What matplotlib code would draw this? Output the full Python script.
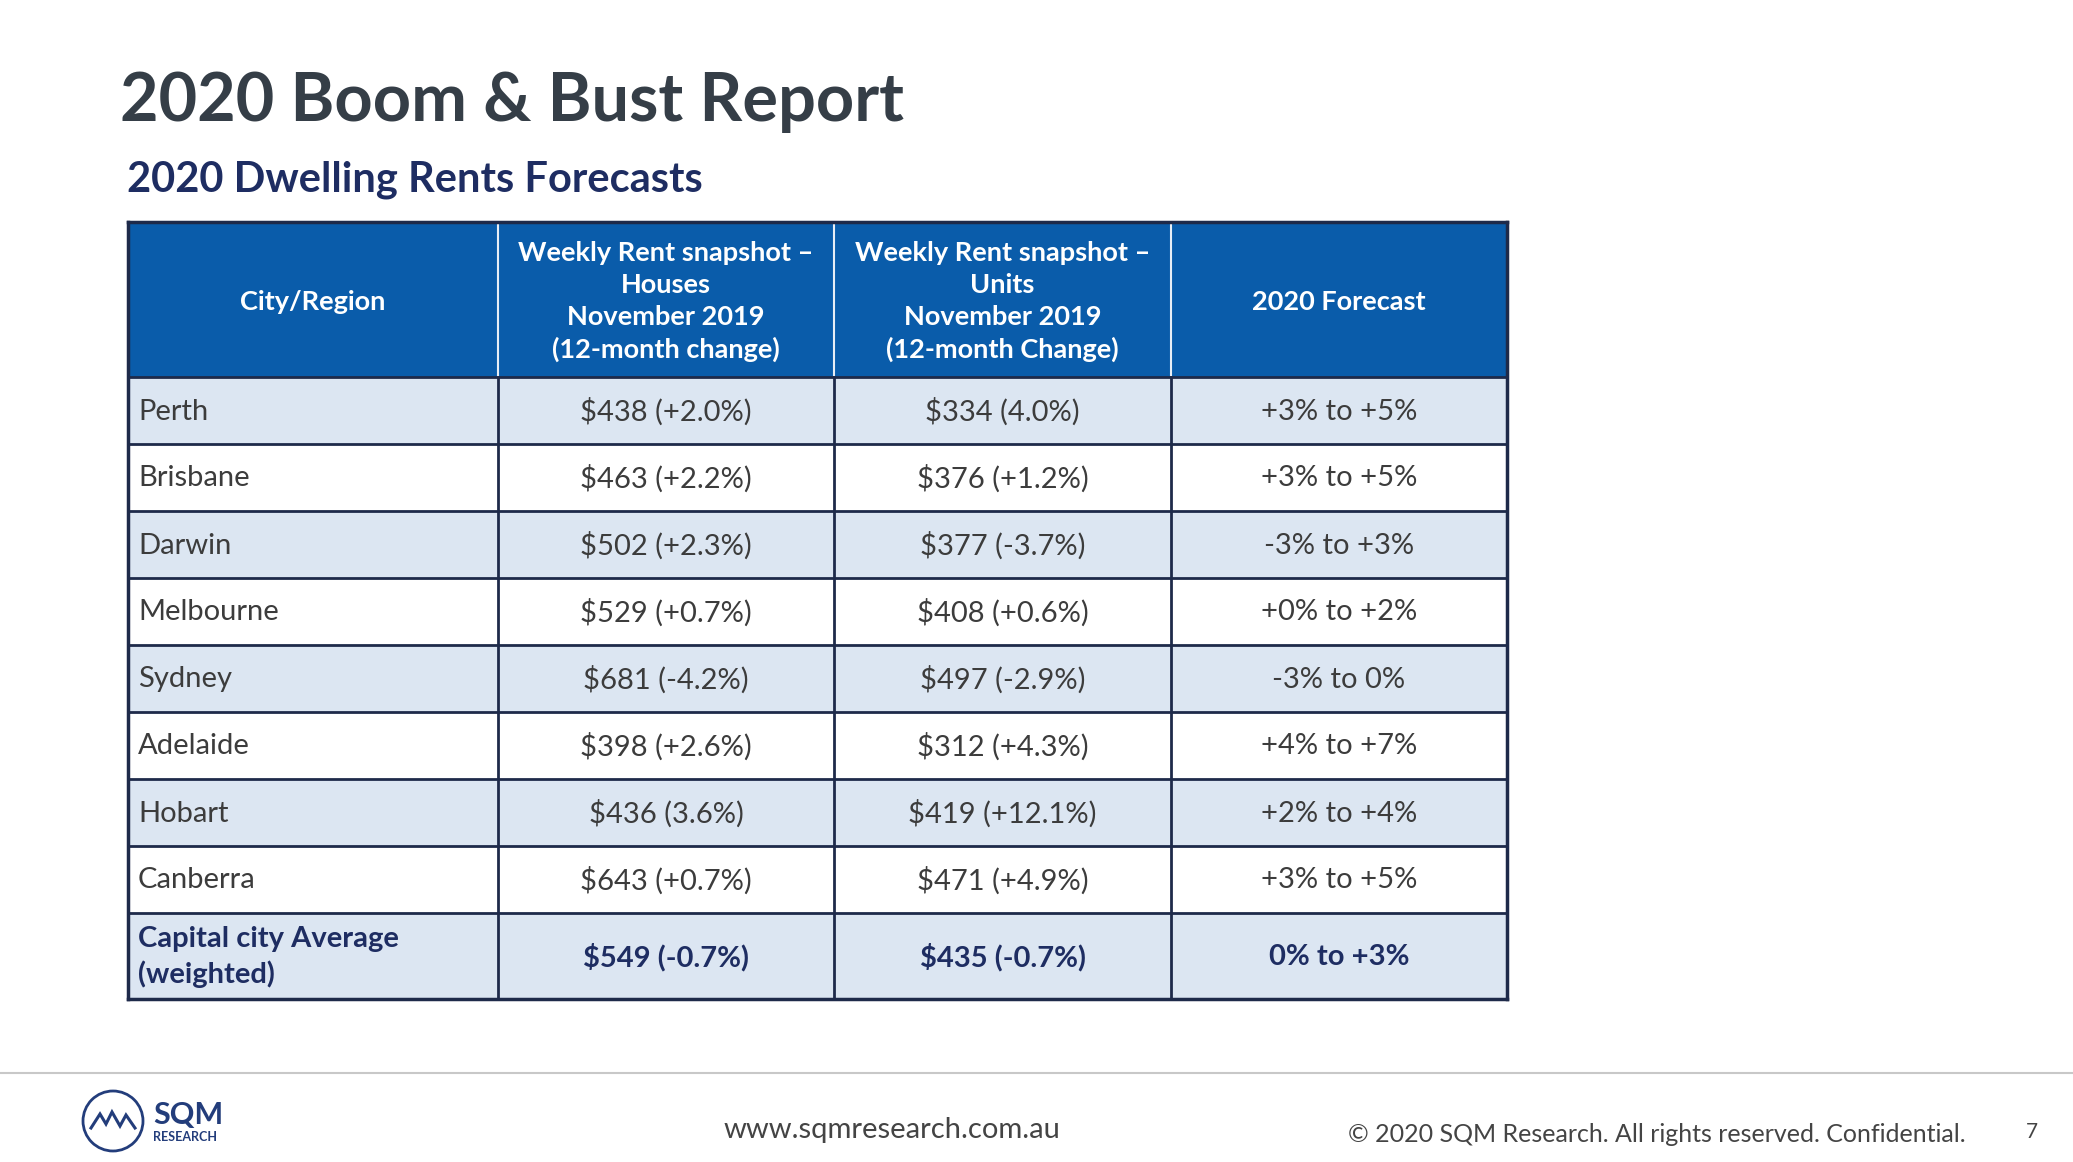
"""Slide: 2020 Boom & Bust Report - dwelling rents forecast table."""

import matplotlib.pyplot as plt
from matplotlib.patches import Rectangle, Circle

W, H = 2073, 1162

# Table content
HEADERS = [
    "City/Region",
    "Weekly Rent snapshot –\nHouses\nNovember 2019\n(12-month change)",
    "Weekly Rent snapshot –\nUnits\nNovember 2019\n(12-month Change)",
    "2020 Forecast",
]
CITIES = ["Perth", "Brisbane", "Darwin", "Melbourne", "Sydney",
          "Adelaide", "Hobart", "Canberra"]
HOUSES = ["$438 (+2.0%)", "$463 (+2.2%)", "$502 (+2.3%)", "$529 (+0.7%)",
          "$681 (-4.2%)", "$398 (+2.6%)", "$436 (3.6%)", "$643 (+0.7%)"]
UNITS = ["$334 (4.0%)", "$376 (+1.2%)", "$377 (-3.7%)", "$408 (+0.6%)",
         "$497 (-2.9%)", "$312 (+4.3%)", "$419 (+12.1%)", "$471 (+4.9%)"]
FORECAST = ["+3% to +5%", "+3% to +5%", "-3% to +3%", "+0% to +2%",
            "-3% to 0%", "+4% to +7%", "+2% to +4%", "+3% to +5%"]
AVERAGE = ["Capital city Average\n(weighted)", "$549 (-0.7%)",
           "$435 (-0.7%)", "0% to +3%"]

# Layout (pixels)
COL_EDGES = [128, 498, 834, 1171, 1507]
HEADER_TOP, HEADER_BOT = 222, 377
ROW_H = 67
AVG_H = 86

HEADER_BLUE = "#0A5CAA"
LIGHT = "#DCE6F2"
BORDER = "#1E2A4A"
TEXT = "#3C3C3C"
NAVY = "#1E2D62"

plt.rcParams["font.family"] = ["Lato", "DejaVu Sans"]


def main():
    fig = plt.figure(figsize=(W / 100, H / 100), dpi=100)
    ax = fig.add_axes([0, 0, 1, 1])
    ax.set_xlim(0, W)
    ax.set_ylim(H, 0)
    ax.axis("off")

    # Titles
    ax.text(120, 102, "2020 Boom & Bust Report", fontsize=48,
            fontweight="bold", color="#353E47", va="center", ha="left")
    ax.text(127, 180, "2020 Dwelling Rents Forecasts", fontsize=30,
            fontweight="bold", color=NAVY, va="center", ha="left")

    # Header row
    x0, x1 = COL_EDGES[0], COL_EDGES[-1]
    ax.add_patch(Rectangle((x0, HEADER_TOP), x1 - x0, HEADER_BOT - HEADER_TOP,
                           facecolor=HEADER_BLUE, edgecolor="none"))
    for i, label in enumerate(HEADERS):
        cx = (COL_EDGES[i] + COL_EDGES[i + 1]) / 2
        ax.text(cx, (HEADER_TOP + HEADER_BOT) / 2 + 2, label, fontsize=19.5,
                fontweight="bold", color="white", ha="center", va="center",
                linespacing=1.4)
    for xe in COL_EDGES[1:-1]:
        ax.plot([xe, xe], [HEADER_TOP, HEADER_BOT], color="#E8EEF6", lw=1.5)

    # Body rows
    rows = list(zip(CITIES, HOUSES, UNITS, FORECAST)) + [tuple(AVERAGE)]
    y = HEADER_BOT
    for r, row in enumerate(rows):
        last = r == len(rows) - 1
        h = AVG_H if last else ROW_H
        face = LIGHT if r % 2 == 0 else "white"
        ax.add_patch(Rectangle((x0, y), x1 - x0, h, facecolor=face,
                               edgecolor="none"))
        for c, val in enumerate(row):
            if c == 0:
                tx, ha = COL_EDGES[0] + 10, "left"
            else:
                tx, ha = (COL_EDGES[c] + COL_EDGES[c + 1]) / 2, "center"
            ax.text(tx, y + h / 2 + 1, val, fontsize=21 if last else 21,
                    fontweight="bold" if last else "normal",
                    color=NAVY if last else TEXT, ha=ha, va="center",
                    linespacing=1.35)
        ax.plot([x0, x1], [y, y], color=BORDER, lw=2)
        y += h
    ax.plot([x0, x1], [y, y], color=BORDER, lw=2.5)
    ax.plot([x0, x1], [HEADER_TOP, HEADER_TOP], color=BORDER, lw=2.5)
    for xe in COL_EDGES:
        ax.plot([xe, xe], [HEADER_BOT, y], color=BORDER, lw=2)
    ax.plot([x0, x0], [HEADER_TOP, y], color=BORDER, lw=2.5)
    ax.plot([x1, x1], [HEADER_TOP, y], color=BORDER, lw=2.5)

    # Footer
    ax.plot([0, W], [1073, 1073], color="#C8C8C8", lw=1.5)
    ax.text(892, 1130, "www.sqmresearch.com.au", fontsize=21,
            color="#444444", ha="center", va="center")
    ax.text(1966, 1134, "© 2020 SQM Research. All rights reserved. Confidential.",
            fontsize=18, color="#444444", ha="right", va="center")
    ax.text(2032, 1132, "7", fontsize=15, color="#444444",
            ha="center", va="center")

    # Logo
    logo = "#233D7B"
    ax.add_patch(Circle((113, 1121), 30, facecolor="none",
                        edgecolor=logo, lw=2))
    ax.plot([91, 100, 106, 112, 120, 126, 135],
            [1128, 1114, 1124, 1112, 1126, 1115, 1128],
            color=logo, lw=2.2, solid_joinstyle="miter")
    ax.text(153, 1115, "SQM", fontsize=22, fontweight="bold", color=logo,
            ha="left", va="center")
    ax.text(153, 1137, "RESEARCH", fontsize=9, fontweight="bold",
            color=logo, ha="left", va="center")

    fig.savefig("out.png", dpi=100)


if __name__ == "__main__":
    main()
